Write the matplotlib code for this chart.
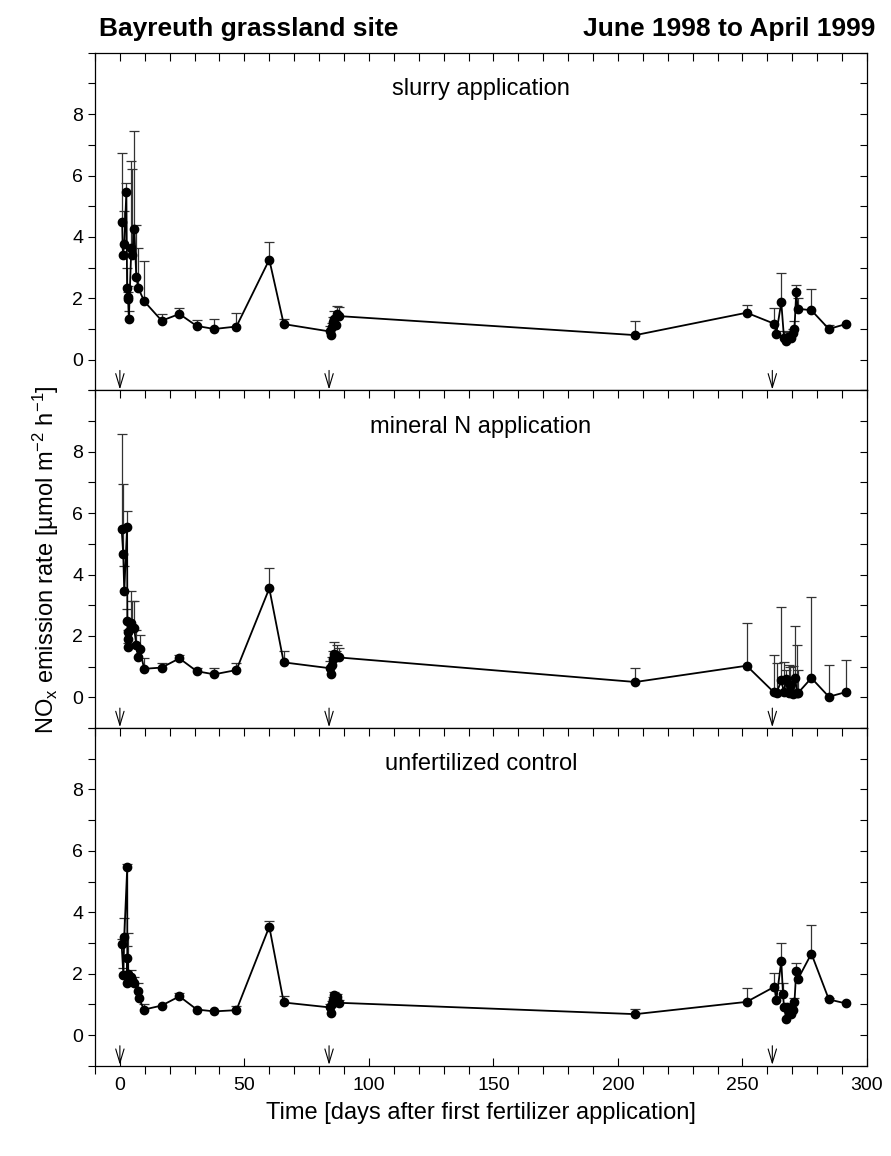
import numpy as np
import matplotlib
matplotlib.use("Agg")
import matplotlib.pyplot as plt
from matplotlib.ticker import MultipleLocator

plt.rcParams['font.family'] = ['Liberation Sans', 'DejaVu Sans']
plt.rcParams['mathtext.fontset'] = 'custom'
plt.rcParams['mathtext.rm'] = 'Liberation Sans'
plt.rcParams['mathtext.it'] = 'Liberation Sans:italic'

# slurry application: day, mean, top of error bar
slurry_day = [0.9, 1.2, 1.8, 2.6, 2.9, 3.1, 3.3, 3.6, 4.6, 5.0, 5.8, 6.6, 7.4, 9.8,
              16.8, 23.9, 30.8, 37.9, 46.8, 60.0, 65.8,
              84.2, 84.6, 85.0, 85.5, 86.0, 86.6, 87.2, 88.0,
              207.0, 251.7, 262.8, 263.6, 265.6, 266.7, 267.6, 268.4, 269.5, 270.4,
              270.9, 271.6, 272.2, 277.7, 284.7, 291.5]
slurry_val = [4.50, 3.42, 3.77, 5.46, 2.33, 2.05, 1.97, 1.34, 3.64, 3.40, 4.27, 2.68, 2.33, 1.90,
              1.27, 1.49, 1.10, 1.00, 1.08, 3.26, 1.16,
              0.92, 0.80, 1.05, 1.22, 1.32, 1.12, 1.48, 1.42,
              0.80, 1.53, 1.17, 0.85, 1.87, 0.70, 0.60, 0.75, 0.72, 0.87,
              1.01, 2.19, 1.66, 1.61, 1.00, 1.16]
slurry_top = [6.73, 3.42, 4.83, 5.75, 3.00, 2.39, 2.20, 1.60, 6.48, 6.20, 7.46, 4.40, 3.64, 3.20,
              1.49, 1.68, 1.30, 1.33, 1.52, 3.83, 1.33,
              1.10, 0.80, 1.20, 1.40, 1.60, 1.30, 1.75, 1.70,
              1.25, 1.77, 1.68, 0.85, 2.81, 0.95, 0.75, 0.90, 0.85, 1.00,
              1.25, 2.44, 2.00, 2.30, 1.14, 1.16]

# mineral N application
mineral_day = [0.7, 1.35, 1.75, 2.9, 3.0, 3.1, 3.2, 3.4, 4.4, 4.9, 5.75, 6.6, 7.3, 8.0, 9.75,
               16.8, 23.9, 30.9, 37.9, 46.8, 60.0, 65.8,
               84.2, 84.6, 85.0, 85.5, 86.0, 86.6, 87.2, 88.0,
               207.0, 251.7, 262.7, 263.7, 265.6, 266.7, 267.5, 268.7, 269.3, 270.4,
               271.3, 271.8, 272.3, 277.7, 284.7, 291.5]
mineral_val = [5.50, 4.66, 3.47, 5.55, 2.48, 1.64, 2.13, 1.90, 2.42, 2.30, 2.25, 1.69, 1.33, 1.56, 0.93,
               0.97, 1.27, 0.85, 0.75, 0.89, 3.55, 1.14,
               0.95, 0.75, 1.05, 1.25, 1.40, 1.30, 1.35, 1.30,
               0.50, 1.03, 0.16, 0.14, 0.55, 0.16, 0.60, 0.14, 0.41, 0.11,
               0.63, 0.15, 0.14, 0.63, 0.02, 0.17]
mineral_top = [8.58, 6.95, 4.29, 6.08, 2.88, 1.77, 2.50, 2.20, 3.47, 3.14, 3.14, 2.20, 1.60, 2.03, 1.29,
               1.13, 1.38, 0.96, 0.94, 1.11, 4.20, 1.50,
               1.20, 0.75, 1.30, 1.50, 1.80, 1.50, 1.70, 1.60,
               0.95, 2.42, 1.39, 1.12, 2.95, 1.15, 0.90, 1.07, 0.98, 1.01,
               2.34, 1.72, 0.90, 3.27, 1.04, 1.23]

# unfertilized control
control_day = [0.7, 1.4, 1.75, 2.95, 3.0, 3.05, 3.1, 4.4, 4.9, 5.75, 7.35, 7.6, 9.75,
               16.8, 23.9, 30.9, 37.9, 46.8, 60.0, 65.8,
               84.2, 84.6, 85.0, 85.5, 86.0, 86.6, 87.2, 88.0,
               207.0, 251.7, 262.8, 263.6, 265.6, 266.3, 266.7, 267.6, 268.0, 268.8, 269.5,
               270.4, 270.9, 271.6, 272.2, 277.7, 284.7, 291.5]
control_val = [2.95, 1.97, 3.19, 5.46, 1.68, 2.52, 2.00, 1.89, 1.79, 1.68, 1.44, 1.19, 0.83,
               0.96, 1.26, 0.83, 0.77, 0.81, 3.53, 1.06,
               0.90, 0.72, 1.00, 1.15, 1.30, 1.20, 1.25, 1.05,
               0.68, 1.08, 1.57, 1.14, 2.41, 1.32, 0.90, 0.52, 0.90, 0.81, 0.70,
               0.81, 1.08, 2.08, 1.81, 2.65, 1.16, 1.03]
control_top = [3.12, 2.17, 3.81, 5.57, 1.68, 2.89, 3.32, 2.13, 1.79, 1.89, 1.68, 1.19, 1.00,
               0.96, 1.37, 0.83, 0.77, 0.96, 3.73, 1.27,
               1.00, 0.72, 1.10, 1.25, 1.40, 1.30, 1.35, 1.15,
               0.85, 1.53, 2.02, 1.48, 3.00, 1.70, 0.90, 0.52, 0.90, 0.81, 0.70,
               0.81, 1.19, 2.35, 1.81, 3.60, 1.19, 1.03]

panel_titles = ["slurry application", "mineral N application", "unfertilized control"]
fert_days = [0, 84, 262]

series = [(slurry_day, slurry_val, slurry_top),
          (mineral_day, mineral_val, mineral_top),
          (control_day, control_val, control_top)]

fig = plt.figure(figsize=(8.91, 11.56), dpi=100)
axes = fig.subplots(3, 1, sharex=True)
fig.subplots_adjust(left=0.1066, right=0.973, bottom=0.0781, top=0.9544, hspace=0)

for i, ax in enumerate(axes):
    d, v, t = [np.array(a) for a in series[i]]
    has_err = t > v + 0.01
    # upper error bars only
    ax.vlines(d[has_err], v[has_err], t[has_err], color='#333333', lw=0.9, zorder=1)
    ax.plot(d[has_err], t[has_err], ls='none', marker='_', ms=7, mew=0.9, color='#333333', zorder=1)
    ax.plot(d, v, '-', color='black', lw=1.3, marker='o', ms=6, mfc='black', mec='black', zorder=3)

    for fd in fert_days:
        ax.annotate('', xy=(fd, -0.97), xytext=(fd, -0.35),
                    arrowprops=dict(arrowstyle='->,head_length=1.0,head_width=0.3',
                                    lw=0.8, color='black', shrinkA=0, shrinkB=0))

    ax.text(0.5, 0.893, panel_titles[i], transform=ax.transAxes, ha='center', va='center', fontsize=17)

    ax.set_xlim(-10, 300)
    ax.set_ylim(-1, 10)
    ax.yaxis.set_minor_locator(MultipleLocator(1))
    ax.set_yticks([0, 2, 4, 6, 8])
    ax.tick_params(axis='y', which='both', left=True, right=True, direction='out', length=5, width=0.8,
                   labelsize=14)
    ax.xaxis.set_major_locator(MultipleLocator(50))
    ax.xaxis.set_minor_locator(MultipleLocator(10))
    ax.tick_params(axis='x', which='both', top=True, bottom=(i == 2), direction='in', length=6, width=0.8,
                   labelsize=14)
    for sp in ax.spines.values():
        sp.set_linewidth(0.9)

# right ticks inward, bottom ticks of lowest panel outward
for ax in axes:
    for tk in ax.yaxis.get_major_ticks() + ax.yaxis.get_minor_ticks():
        tk.tick2line.set_marker(matplotlib.lines.TICKLEFT)
bottom_ax = axes[2]
for tk in bottom_ax.xaxis.get_major_ticks():
    tk.tick1line.set_marker(matplotlib.lines.TICKDOWN)
    tk.tick1line.set_markersize(9)
for tk in bottom_ax.xaxis.get_minor_ticks():
    tk.tick1line.set_marker(matplotlib.lines.TICKDOWN)
    tk.tick1line.set_markersize(6)
bottom_ax.tick_params(axis='x', which='major', pad=8)

axes[1].set_ylabel(r'NO$_\mathrm{x}$ emission rate [µmol m$^{-2}$ h$^{-1}$]', fontsize=17, labelpad=8)
axes[2].set_xlabel('Time [days after first fertilizer application]', fontsize=17, labelpad=6)

fig.text(0.111, 0.969, 'Bayreuth grassland site', fontsize=19, fontweight='bold', ha='left', va='baseline')
fig.text(0.982, 0.969, 'June 1998 to April 1999', fontsize=19, fontweight='bold', ha='right', va='baseline')

fig.savefig('out.png', dpi=100)
